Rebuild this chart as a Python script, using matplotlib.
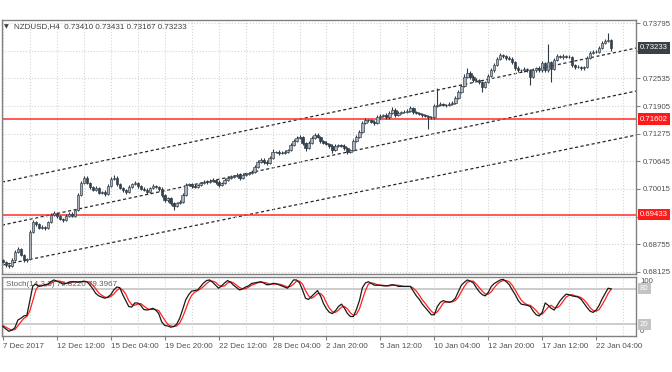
import numpy as np
import matplotlib
matplotlib.use('Agg')
import matplotlib.pyplot as plt

plt.rcParams['font.family'] = ['Liberation Sans', 'DejaVu Sans']

# H4 closes (one per candle)
closes = [
    0.6836, 0.6828, 0.6826, 0.6840, 0.6858, 0.6865, 0.6851, 0.6840, 0.6842, 0.6904,
    0.6926, 0.6922, 0.6913, 0.6915, 0.6913, 0.6926, 0.6942, 0.6947, 0.6940, 0.6933,
    0.6931, 0.6940, 0.6945, 0.6940, 0.6954, 0.6988, 0.7015, 0.7027, 0.7015, 0.7006,
    0.6999, 0.7004, 0.6993, 0.6995, 0.6990, 0.7008, 0.7024, 0.7027, 0.7013, 0.7004,
    0.6999, 0.6995, 0.7006, 0.7013, 0.7015, 0.7008, 0.7002, 0.6999, 0.6995, 0.7004,
    0.7008, 0.7006, 0.7002, 0.6988, 0.6976, 0.6981, 0.6970, 0.6963, 0.6970, 0.6972,
    0.6988, 0.7011, 0.7013, 0.7008, 0.7006, 0.7011, 0.7015, 0.7018, 0.7018, 0.7020,
    0.7022, 0.7018, 0.7011, 0.7015, 0.7022, 0.7027, 0.7029, 0.7031, 0.7034, 0.7027,
    0.7034, 0.7036, 0.7038, 0.7040, 0.7052, 0.7063, 0.7068, 0.7063, 0.7061, 0.7072,
    0.7086, 0.7086, 0.7084, 0.7084, 0.7086, 0.7090, 0.7102, 0.7111, 0.7118, 0.7120,
    0.7106, 0.7095, 0.7106, 0.7118, 0.7125, 0.7120, 0.7111, 0.7106, 0.7104, 0.7100,
    0.7090, 0.7100, 0.7102, 0.7100, 0.7095, 0.7086, 0.7090, 0.7111, 0.7120, 0.7131,
    0.7152, 0.7159, 0.7159, 0.7154, 0.7152, 0.7165, 0.7168, 0.7170, 0.7165, 0.7175,
    0.7182, 0.7170, 0.7175, 0.7177, 0.7177, 0.7179, 0.7186, 0.7177, 0.7175, 0.7172,
    0.7170, 0.7168, 0.7165, 0.7165, 0.7191, 0.7193, 0.7195, 0.7193, 0.7193, 0.7195,
    0.7197, 0.7209, 0.7222, 0.7236, 0.7257, 0.7266, 0.7257, 0.7250, 0.7250, 0.7245,
    0.7234, 0.7245, 0.7259, 0.7272, 0.7284, 0.7298, 0.7307, 0.7304, 0.7300, 0.7298,
    0.7291, 0.7277, 0.7272, 0.7272, 0.7275, 0.7272, 0.7257, 0.7272, 0.7277, 0.7272,
    0.7288, 0.7272, 0.7291, 0.7275, 0.7295, 0.7304, 0.7302, 0.7304, 0.7302, 0.7302,
    0.7284, 0.7279, 0.7279, 0.7277, 0.7279, 0.7300, 0.7311, 0.7314, 0.7314, 0.7323,
    0.7334, 0.7339, 0.7341, 0.73233,
]
first_open = 0.6840

# wick lengths in pips above / below the body
upper_wick = [
    3, 2, 3, 4, 4, 4, 3, 2, 3, 3,
    4, 3, 3, 4, 3, 3, 4, 4, 3, 2,
    3, 4, 3, 3, 3, 4, 4, 4, 3, 3,
    3, 4, 3, 3, 4, 4, 5, 7, 3, 3,
    3, 3, 4, 3, 4, 3, 3, 3, 4, 3,
    4, 3, 3, 3, 3, 3, 3, 3, 3, 4,
    4, 4, 3, 3, 4, 3, 3, 4, 3, 4,
    4, 3, 3, 3, 4, 3, 4, 3, 4, 3,
    4, 3, 3, 4, 4, 5, 5, 3, 4, 4,
    6, 3, 4, 3, 4, 3, 4, 5, 4, 5,
    3, 3, 4, 5, 4, 3, 3, 3, 4, 3,
    3, 4, 3, 3, 3, 3, 3, 4, 4, 4,
    5, 5, 3, 3, 4, 4, 4, 3, 4, 5,
    6, 3, 4, 3, 4, 4, 5, 3, 3, 3,
    3, 3, 3, 3, 4, 38, 4, 3, 3, 4,
    4, 4, 5, 5, 6, 11, 4, 3, 4, 3,
    3, 3, 4, 4, 4, 5, 5, 3, 3, 4,
    3, 3, 4, 3, 4, 3, 3, 4, 3, 4,
    6, 3, 40, 3, 4, 4, 3, 4, 3, 4,
    3, 3, 4, 3, 3, 4, 4, 3, 4, 4,
    5, 4, 16, 2.1,
]
lower_wick = [
    4, 4, 5, 3, 3, 3, 3, 4, 4, 3,
    3, 4, 3, 3, 4, 3, 3, 3, 4, 3,
    4, 3, 3, 3, 3, 3, 3, 3, 3, 4,
    3, 3, 4, 3, 4, 3, 3, 3, 4, 3,
    4, 4, 3, 3, 3, 4, 3, 3, 4, 3,
    3, 3, 4, 4, 5, 3, 4, 9, 3, 3,
    3, 3, 3, 4, 3, 3, 3, 3, 4, 3,
    3, 4, 4, 3, 3, 3, 3, 3, 3, 4,
    3, 3, 3, 3, 3, 3, 3, 5, 4, 3,
    3, 3, 4, 3, 3, 3, 3, 3, 3, 3,
    4, 6, 3, 3, 3, 3, 4, 3, 3, 4,
    6, 3, 3, 3, 4, 5, 3, 3, 3, 3,
    3, 3, 4, 3, 4, 3, 3, 3, 4, 3,
    3, 4, 3, 3, 3, 3, 3, 4, 3, 3,
    4, 3, 27, 4, 3, 3, 3, 3, 4, 3,
    3, 3, 3, 3, 3, 3, 4, 4, 3, 4,
    12, 3, 3, 3, 3, 3, 3, 4, 4, 3,
    4, 5, 4, 3, 3, 4, 19, 3, 3, 4,
    3, 4, 3, 30, 3, 3, 3, 4, 3, 3,
    5, 4, 3, 4, 5, 3, 3, 3, 3, 3,
    3, 3, 3, 6.6,
]

# Stochastic(14,3,3): main (%K) and signal (%D)
stoch_k = [
    16, 12, 8, 10, 14, 27, 30, 34, 35, 60,
    85, 88, 84, 85, 87, 88, 92, 95, 93, 91,
    88, 89, 91, 92, 92, 91, 92, 93, 92, 87,
    80, 72, 68, 66, 64, 66, 70, 78, 83, 82,
    70, 60, 50, 49, 56, 56, 52, 45, 44, 45,
    47, 44, 38, 24, 18, 17, 15, 16, 20, 30,
    45, 61, 70, 76, 77, 78, 84, 90, 94, 95,
    91, 86, 81, 85, 90, 94, 91, 86, 82, 78,
    80, 83, 85, 89, 90, 91, 92, 90, 87, 87,
    89, 89, 87, 85, 83, 81, 88, 95, 95, 90,
    78, 64, 62, 67, 72, 77, 68, 55, 46, 40,
    38, 43, 50, 54, 47, 38, 33, 33, 45, 60,
    82, 90, 92, 89, 86, 86, 86, 85, 85, 86,
    87, 86, 84, 84, 84, 84, 84, 76, 68, 62,
    54, 48, 42, 36, 36, 50, 57, 60, 58, 57,
    59, 64, 75, 86, 91, 95, 93, 90, 82, 75,
    70, 68, 74, 84, 89, 92, 95, 96, 92, 87,
    78, 70, 60, 54, 53, 52, 50, 42, 36, 34,
    40, 56, 52, 47, 44, 52, 60, 66, 71, 70,
    68, 67, 66, 62, 55, 48, 42, 40, 44, 52,
    63, 72, 81, 79.8220,
]
stoch_d = [
    18, 15, 12, 10, 11, 17, 24, 30, 33, 43,
    60, 78, 86, 86, 85, 87, 89, 92, 93, 93,
    91, 89, 89, 91, 92, 92, 92, 92, 92, 91,
    86, 80, 73, 69, 66, 65, 67, 71, 77, 81,
    78, 71, 60, 53, 52, 54, 55, 51, 47, 45,
    45, 45, 43, 35, 27, 20, 17, 16, 17, 22,
    32, 45, 59, 69, 74, 77, 80, 84, 89, 93,
    93, 91, 86, 84, 85, 90, 92, 90, 86, 82,
    80, 80, 83, 86, 88, 90, 91, 91, 90, 88,
    88, 88, 88, 87, 85, 83, 84, 88, 93, 93,
    88, 77, 68, 64, 67, 72, 72, 67, 56, 47,
    41, 40, 44, 49, 50, 46, 39, 35, 37, 46,
    62, 77, 88, 90, 89, 87, 86, 86, 85, 85,
    86, 86, 86, 85, 84, 84, 84, 81, 76, 69,
    61, 55, 48, 42, 38, 41, 48, 56, 58, 58,
    58, 60, 66, 75, 84, 91, 93, 93, 88, 82,
    76, 71, 71, 75, 82, 88, 92, 94, 94, 92,
    86, 78, 69, 61, 56, 53, 52, 48, 43, 37,
    37, 43, 49, 52, 48, 48, 52, 59, 66, 69,
    70, 68, 67, 65, 61, 55, 48, 43, 42, 45,
    53, 62, 72, 79.3967,
]

time_labels = ['7 Dec 2017', '12 Dec 12:00', '15 Dec 04:00', '19 Dec 20:00',
               '22 Dec 12:00', '28 Dec 04:00', '2 Jan 20:00', '5 Jan 12:00',
               '10 Jan 04:00', '12 Jan 20:00', '17 Jan 12:00', '22 Jan 04:00']
bars_per_label = 18

# horizontal support / resistance lines
levels = [0.71602, 0.69433]

# trend channel: anchor bars and prices of the three parallel lines
channel_bars = [0, 203]
channel_top = [0.70175, 0.73105]
channel_mid = [0.69196, 0.72126]
channel_low = [0.68285, 0.71127]

price_ticks = [0.68125, 0.68755, 0.69385, 0.70015, 0.70645,
               0.71275, 0.71905, 0.72535, 0.73165, 0.73795]

closes = np.array(closes)
opens = np.array([first_open] + list(closes[:-1]))
highs = np.maximum(opens, closes) + np.array(upper_wick) * 0.0001
lows = np.minimum(opens, closes) - np.array(lower_wick) * 0.0001
idx = np.arange(len(closes))

W, H = 672, 372
fig = plt.figure(figsize=(W / 100, H / 100), dpi=100)


def box(l, t, r, b):
    return [l / W, 1 - b / H, (r - l) / W, (b - t) / H]


ax = fig.add_axes(box(2, 20, 636, 274))
ax2 = fig.add_axes(box(2, 277, 636, 336))

grid_col = '#d4d4d4'
txt_col = '#505050'
dark = '#2e3a46'
lbl_x = 1.0 + 4 / 634

for a in (ax, ax2):
    a.set_xlim(-0.3, 211.3)
    for s in a.spines.values():
        s.set_color('#808080')
        s.set_linewidth(1)
    a.set_xticks(np.arange(0, 212, 9), minor=True)
    a.grid(True, which='minor', axis='x', ls=':', color=grid_col, lw=0.8)
    a.grid(True, which='major', axis='x', ls=':', color=grid_col, lw=0.8)

# ---- price panel ----
ax.set_ylim(0.68079, 0.73864)
ax.yaxis.tick_right()
ax.set_yticks(price_ticks)
# the two ticks sitting under the price boxes are hidden by them
covered = [0.69385, 0.73165]
ax.set_yticklabels(['' if p in covered else '%.5f' % p for p in price_ticks])
ax.tick_params(axis='y', length=3, color='#808080', labelsize=5.6,
               labelcolor=txt_col, pad=2)
ax.grid(True, axis='y', ls=':', color=grid_col, lw=0.8)
ax.set_xticks(np.arange(0, 212, bars_per_label))
ax.tick_params(axis='x', which='both', bottom=False, labelbottom=False)

bull = closes >= opens
body_col = np.where(bull, '#aab1b9', '#36424e')
ax.vlines(idx, lows, highs, color=dark, lw=0.8, zorder=2)
ax.bar(idx, np.maximum(np.abs(closes - opens), 0.00003),
       bottom=np.minimum(opens, closes), width=0.8, color=body_col,
       edgecolor=dark, linewidth=0.45, zorder=3)

for line in (channel_top, channel_mid, channel_low):
    ax.axline((channel_bars[0], line[0]), (channel_bars[1], line[1]),
              color='#262626', ls=(0, (2.5, 2)), lw=0.9, zorder=1.5)

for lv in levels:
    ax.axhline(lv, color='#ff2b2b', lw=1.1, zorder=1.6)
    ax.text(lbl_x, lv, '%.5f' % lv, transform=ax.get_yaxis_transform(),
            ha='left', va='center', fontsize=5.6, color='white', clip_on=False,
            bbox=dict(boxstyle='square,pad=0.3', fc='#ff1a1a', ec='none'))

ax.text(lbl_x, closes[-1], '%.5f' % closes[-1], transform=ax.get_yaxis_transform(),
        ha='left', va='center', fontsize=5.6, color='white', clip_on=False,
        bbox=dict(boxstyle='square,pad=0.3', fc='#3a4047', ec='none'))

fig.text(6 / W, 1 - 27 / H, '\u25bc', fontsize=4.5, color='#404040',
         ha='center', va='center', family='DejaVu Sans')
fig.text(14 / W, 1 - 27 / H,
         'NZDUSD,H4  %.5f %.5f %.5f %.5f' % (opens[-1], highs[-1], lows[-1], closes[-1]),
         fontsize=5.8, color='#404040', ha='left', va='center')

# ---- stochastic panel ----
ax2.set_ylim(0, 100)
ax2.set_yticks([])
ax2.axhline(80, color='#c8c8c8', lw=1.3, zorder=1)
ax2.axhline(20, color='#c8c8c8', lw=1.3, zorder=1)
ax2.plot(idx, stoch_d, color='#ff2020', lw=0.9, zorder=3)
ax2.plot(idx, stoch_k, color='#1a1a1a', lw=0.9, zorder=4)

ax2.set_xticks(np.arange(0, bars_per_label * len(time_labels), bars_per_label))
ax2.set_xticklabels(time_labels, ha='left')
ax2.tick_params(axis='x', which='major', length=3, color='#808080',
                labelsize=5.8, labelcolor=txt_col, pad=2)
ax2.tick_params(axis='x', which='minor', length=0)

ty = ax2.get_yaxis_transform()
ax2.text(lbl_x, 98, '100', transform=ty, ha='left', va='top', fontsize=5.6,
         color=txt_col, clip_on=False)
ax2.text(lbl_x, 2, '0', transform=ty, ha='left', va='bottom', fontsize=5.6,
         color=txt_col, clip_on=False)
for v in (80, 20):
    ax2.text(lbl_x, v, str(v), transform=ty, ha='left', va='center', fontsize=5.6,
             color='white', clip_on=False,
             bbox=dict(boxstyle='square,pad=0.25', fc='#c4c4c4', ec='none'))

ax2.text(4 / 634, 0.88, 'Stoch(14,3,3) %.4f %.4f' % (stoch_k[-1], stoch_d[-1]),
         transform=ax2.transAxes, fontsize=5.8, color='#606060',
         ha='left', va='center')

fig.savefig('out.png', dpi=100)
